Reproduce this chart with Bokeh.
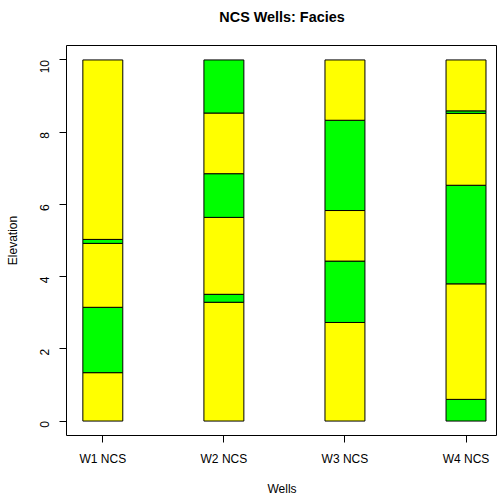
import math
from bokeh.plotting import figure
from bokeh.models import FixedTicker, ColumnDataSource, Range1d, Title
from bokeh.embed import file_html
from bokeh.resources import INLINE

title_text = "NCS Wells: Facies"
wells = ["W1 NCS", "W2 NCS", "W3 NCS", "W4 NCS"]
# Layer boundaries (bottom to top) and facies for each well
w1_bounds = [0.0, 1.34, 3.15, 4.92, 5.03, 10.0]
w1_facies = ["Y", "G", "Y", "G", "Y"]
w2_bounds = [0.0, 3.29, 3.51, 5.64, 6.85, 8.53, 10.0]
w2_facies = ["Y", "G", "Y", "G", "Y", "G"]
w3_bounds = [0.0, 2.73, 4.43, 5.83, 8.33, 10.0]
w3_facies = ["Y", "G", "Y", "G", "Y"]
w4_bounds = [0.0, 0.60, 3.80, 6.53, 8.52, 8.59, 10.0]
w4_facies = ["G", "Y", "G", "Y", "G", "Y"]
y_ticks = [0, 2, 4, 6, 8, 10]

facies_colors = {"Y": "#FFFF00", "G": "#00FF00"}

all_bounds = [w1_bounds, w2_bounds, w3_bounds, w4_bounds]
all_facies = [w1_facies, w2_facies, w3_facies, w4_facies]

xs, bots, tops, cols = [], [], [], []
for i, (b, f) in enumerate(zip(all_bounds, all_facies)):
    for j, fac in enumerate(f):
        xs.append(i + 1)
        bots.append(b[j])
        tops.append(b[j + 1])
        cols.append(facies_colors[fac])

src = ColumnDataSource(dict(x=xs, bottom=bots, top=tops, color=cols))

FONT = "Liberation Sans"

p = figure(frame_width=431, frame_height=390, output_backend="svg", toolbar_location=None,
           x_range=Range1d(0.70, 4.26), y_range=Range1d(-0.4, 10.4),
           min_border_left=66, min_border_right=0, min_border_top=0, min_border_bottom=55)

p.vbar(x="x", bottom="bottom", top="top", width=0.33, fill_color="color",
       line_color="black", line_width=1, source=src)

# spacer between title and plot box
p.add_layout(Title(text=" ", text_font_size="1px", standoff=8), "above")
p.add_layout(Title(text=title_text, text_font=FONT, text_font_size="14.4px",
                   text_font_style="bold", align="center", vertical_align="top",
                   standoff=16, offset=0, text_color="black"), "above")

p.xgrid.visible = False
p.ygrid.visible = False
p.outline_line_color = "black"
p.outline_line_width = 1
p.background_fill_color = "white"
p.border_fill_color = "white"

p.xaxis.ticker = FixedTicker(ticks=[1, 2, 3, 4])
p.xaxis.major_label_overrides = {i + 1: w for i, w in enumerate(wells)}
p.yaxis.ticker = FixedTicker(ticks=y_ticks)
p.yaxis.major_label_orientation = math.pi / 2

for ax in (p.xaxis[0], p.yaxis[0]):
    ax.axis_line_color = None
    ax.major_tick_line_color = "black"
    ax.major_tick_out = 7
    ax.major_tick_in = 0
    ax.minor_tick_line_color = None
    ax.major_label_text_font = FONT
    ax.major_label_text_font_size = "12px"
    ax.major_label_text_color = "black"
    ax.axis_label_text_font = FONT
    ax.axis_label_text_font_size = "12px"
    ax.axis_label_text_font_style = "normal"
    ax.axis_label_text_color = "black"

p.xaxis.axis_label = "Wells"
p.yaxis.axis_label = "Elevation"
p.xaxis.major_label_standoff = 9
p.xaxis.axis_label_standoff = 13
p.yaxis.major_label_standoff = 15
p.yaxis.axis_label_standoff = 13

open("out.html", "w").write(file_html(p, INLINE))
